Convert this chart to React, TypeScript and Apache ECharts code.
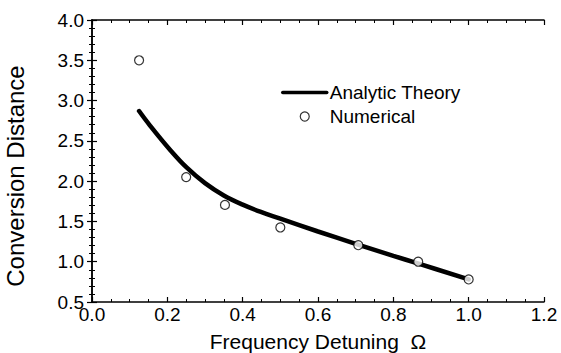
import React, { useEffect, useRef } from "react";
import * as echarts from "echarts";

const theoryOmega = [0.125, 0.154, 0.207, 0.251, 0.3, 0.35, 0.4, 0.45, 0.5, 0.6, 0.7, 0.8, 0.867, 1.0];
const theoryDistance = [2.87, 2.69, 2.39, 2.17, 1.975, 1.822, 1.708, 1.615, 1.535, 1.375, 1.222, 1.073, 0.976, 0.78];

const numOmega = [0.125, 0.25, 0.353, 0.5, 0.707, 0.866, 1.0];
const numDistance = [3.5, 2.05, 1.705, 1.425, 1.205, 1.0, 0.78];

const xTicks = { min: 0, max: 1.2, interval: 0.2 };
const yTicks = { min: 0.5, max: 4.0, interval: 0.5 };

const FONT = "Liberation Sans";

export default function App() {
  const ref = useRef<HTMLDivElement>(null);
  useEffect(() => {
    if (!ref.current) return;
    const chart = echarts.init(ref.current, undefined, { renderer: "svg" });
    const axisLine = { show: true, lineStyle: { color: "#000", width: 1.5 } };
    const tickIn = { show: true, inside: true, length: 5, lineStyle: { color: "#000", width: 1.2 } };
    const minorX = { show: true, splitNumber: 4, length: 3, lineStyle: { color: "#000", width: 1 } };
    const minorY = { show: true, splitNumber: 5, length: 3, lineStyle: { color: "#000", width: 1 } };
    chart.setOption({
      animation: false,
      backgroundColor: "#fff",
      grid: { left: 92, right: 17, top: 20, bottom: 51, containLabel: false, outerBoundsMode: "none" },
      legend: {
        orient: "vertical",
        left: 281,
        top: 83,
        padding: 0,
        itemWidth: 44,
        itemHeight: 9,
        itemGap: 5,
        textStyle: { fontFamily: FONT, fontSize: 19, color: "#000", padding: [0, 0, 0, -2] },
        data: [
          { name: "Analytic Theory", itemStyle: { opacity: 0 }, lineStyle: { width: 3.5, color: "#000" } },
          { name: "Numerical", itemStyle: { color: "#ffffff", borderColor: "#000", borderWidth: 1.2 } },
        ],
      },
      xAxis: [
        {
          type: "value",
          ...xTicks,
          position: "bottom",
          name: "Frequency Detuning  Ω",
          nameLocation: "middle",
          nameGap: 29,
          nameTextStyle: { fontFamily: FONT, fontSize: 21, color: "#000" },
          axisLine,
          axisTick: tickIn,
          minorTick: minorX,
          splitLine: { show: false },
          axisLabel: {
            fontFamily: FONT,
            fontSize: 19,
            color: "#000",
            margin: 3,
            formatter: (v: number) => v.toFixed(1),
          },
        },
        {
          type: "value",
          ...xTicks,
          position: "top",
          axisLine,
          axisTick: tickIn,
          minorTick: minorX,
          splitLine: { show: false },
          axisLabel: { show: false },
        },
      ],
      yAxis: [
        {
          type: "value",
          ...yTicks,
          position: "left",
          name: "Conversion Distance",
          nameLocation: "middle",
          nameGap: 65,
          nameTextStyle: { fontFamily: FONT, fontSize: 24, color: "#000", padding: [0, 30, 0, 0] },
          axisLine,
          axisTick: tickIn,
          minorTick: minorY,
          splitLine: { show: false },
          axisLabel: {
            fontFamily: FONT,
            fontSize: 19,
            color: "#000",
            margin: 8,
            formatter: (v: number) => v.toFixed(1),
          },
        },
        {
          type: "value",
          ...yTicks,
          position: "right",
          axisLine,
          axisTick: tickIn,
          minorTick: minorY,
          splitLine: { show: false },
          axisLabel: { show: false },
        },
      ],
      series: [
        {
          name: "Analytic Theory",
          type: "line",
          smooth: 0.4,
          symbol: "none",
          lineStyle: { color: "#000", width: 4.5, cap: "round" },
          itemStyle: { color: "#000" },
          data: theoryOmega.map((x, i) => [x, theoryDistance[i]]),
          z: 2,
        },
        {
          name: "Numerical",
          type: "scatter",
          symbol: "circle",
          symbolSize: 9,
          itemStyle: { color: "#ffffff", borderColor: "#000", borderWidth: 1.2 },
          data: numOmega.map((x, i) => [x, numDistance[i]]),
          z: 3,
        },
      ],
    });
    return () => chart.dispose();
  }, []);
  return <div ref={ref} style={{ width: 561, height: 353, position: "absolute", left: 0, top: 0 }} />;
}
